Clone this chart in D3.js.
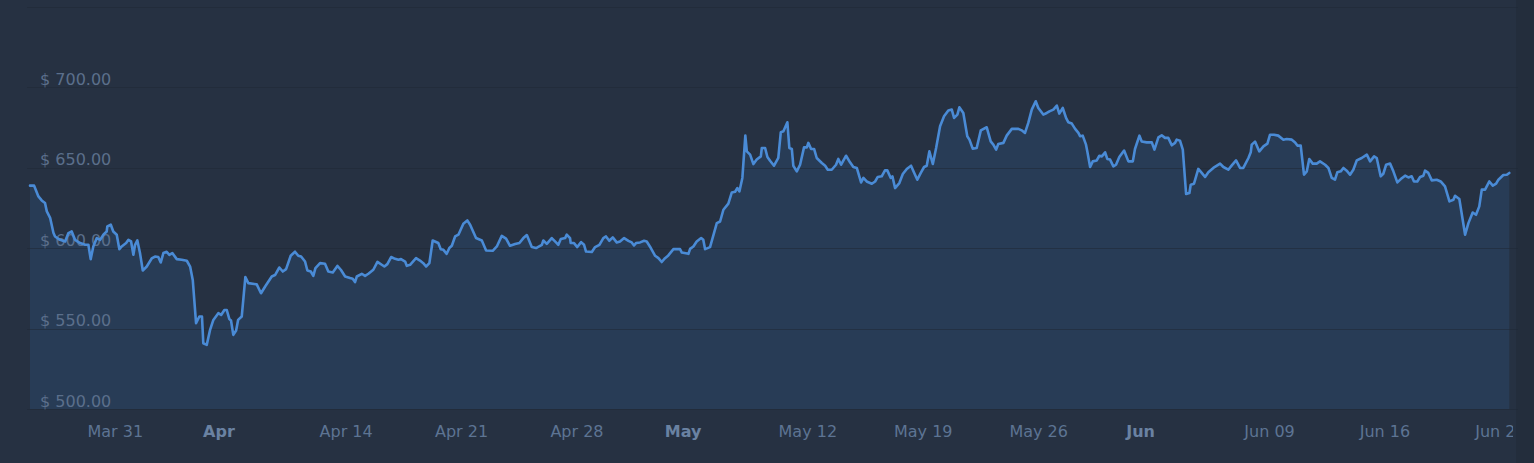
<!DOCTYPE html>
<html>
<head>
<meta charset="utf-8">
<script src="https://cdn.jsdelivr.net/npm/d3@7"></script>
<style>
  html, body { margin: 0; padding: 0; background: #263142; }
  svg { display: block; }
</style>
</head>
<body>
<svg id="chart" width="1534" height="463"></svg>
<script>
// Days relative to Mar 31 (0 = Mar 31)
const days = [-5.14,-4.89,-4.63,-4.43,-4.23,-4.12,-3.92,-3.72,-3.62,-3.32,-3.01,-2.81,-2.61,-2.41,-2.10,-1.80,-1.60,-1.46,-1.30,-1.09,-0.89,-0.69,-0.49,-0.45,-0.24,-0.09,
0.12,0.28,0.42,0.69,0.83,0.99,1.13,1.23,1.37,1.53,1.70,1.94,2.24,2.44,2.64,2.79,2.95,3.15,3.31,3.49,3.76,4.06,4.37,4.57,4.73,4.93,5.13,5.29,5.37,5.58,5.78,5.98,6.28,6.45,6.65,6.79,6.95,7.05,7.19,7.36,7.48,7.70,7.92,8.10,8.61,8.87,9.12,9.52,9.72,9.98,10.19,10.39,10.67,10.93,11.13,11.30,11.54,11.68,11.89,12.04,12.17,12.45,12.75,12.95,13.22,13.50,13.71,13.97,14.27,14.43,14.57,14.68,14.98,15.18,15.38,15.68,15.93,16.19,16.35,16.53,16.76,17.00,17.20,17.36,17.61,17.71,17.91,18.27,18.51,18.71,18.88,19.08,19.28,19.62,19.77,19.93,20.13,20.29,20.44,20.64,20.84,21.14,21.38,21.55,21.91,22.26,22.52,22.92,23.17,23.47,23.73,23.97,24.28,24.54,24.78,24.99,25.29,25.55,25.90,25.99,26.20,26.50,26.76,26.90,27.05,27.31,27.41,27.61,27.65,27.85,28.05,28.28,28.46,28.58,28.93,29.13,29.39,29.63,29.79,29.99,30.20,30.44,30.64,30.89,31.15,31.35,31.49,31.61,31.86,32.10,32.26,32.51,32.77,32.97,33.17,33.37,33.57,33.88,34.28,34.39,34.79,34.89,35.09,35.29,35.56,35.69,35.80,36.10,36.51,36.71,36.91,37.21,37.42,37.62,37.76,37.88,38.06,38.24,38.33,38.53,38.73,38.93,39.18,39.24,39.44,39.58,39.74,39.98,40.24,40.39,40.55,40.79,40.91,41.06,41.15,41.36,41.56,41.80,41.97,42.06,42.23,42.41,42.57,42.88,43.08,43.24,43.48,43.74,43.88,44.05,44.35,44.59,44.79,45.00,45.26,45.40,45.60,45.91,46.11,46.27,46.51,46.71,46.85,47.06,47.16,47.32,47.58,47.79,48.03,48.29,48.47,48.67,48.88,49.08,49.24,49.40,49.61,49.81,50.05,50.29,50.55,50.76,50.90,51.10,51.22,51.46,51.70,51.83,52.03,52.27,52.52,52.88,53.12,53.28,53.45,53.58,53.89,54.09,54.40,54.80,55.00,55.20,55.40,55.61,55.85,56.01,56.31,56.52,56.68,56.92,57.13,57.28,57.49,57.69,57.83,58.04,58.24,58.44,58.54,58.70,58.90,58.98,59.15,59.31,59.55,59.71,59.86,60.06,60.19,60.36,60.56,60.72,60.92,61.21,61.47,61.74,61.87,62.14,62.28,62.58,62.89,63.05,63.29,63.49,63.69,63.89,64.10,64.30,64.40,64.60,64.77,64.97,65.17,65.25,65.45,65.71,65.92,66.12,66.32,66.62,67.03,67.23,67.53,67.74,68.00,68.24,68.44,68.75,68.89,68.95,69.15,69.41,69.66,69.90,70.06,70.30,70.56,70.87,71.07,71.38,71.58,71.72,71.92,72.12,72.29,72.44,72.65,72.89,73.09,73.40,73.60,73.80,74.00,74.14,74.35,74.51,74.71,74.91,75.11,75.32,75.62,75.93,76.13,76.37,76.53,76.77,76.93,77.10,77.34,77.54,77.78,77.99,78.25,78.45,78.65,78.79,78.99,79.16,79.36,79.46,79.66,79.87,80.17,80.41,80.67,80.94,81.18,81.28,81.54,81.89,82.09,82.35,82.55,82.75,82.90,83.10,83.36,83.57,83.77,83.91,84.21,84.42,84.57];

const prices = [638.9,638.9,632.2,629.7,628.1,622.9,618.9,609.6,607.3,605.2,604.2,609.4,610.4,605.2,603.2,602.1,602.1,593.2,601.1,606.3,605.2,608.4,610.4,613.5,614.6,610.4,
608.4,599.4,601.1,603.2,605.2,604.2,595.9,602.1,604.8,597.0,586.1,588.6,593.6,594.8,594.5,591.1,597.0,597.8,595.9,597.0,593.2,592.8,592.2,588.6,580.3,553.4,557.5,557.5,540.9,539.9,549.2,555.4,559.6,558.5,561.6,561.6,555.9,555.0,546.1,548.8,555.4,557.5,582.0,578.3,577.5,572.0,576.2,582.4,583.3,588.0,585.5,587.0,595.3,597.8,595.3,594.8,591.7,586.1,585.5,582.8,587.6,590.7,590.3,585.5,584.9,589.0,586.6,582.4,581.4,581.0,578.9,582.4,584.1,582.8,584.1,586.6,591.5,589.7,588.6,590.1,594.5,593.4,592.8,593.2,591.7,589.0,589.7,593.8,592.3,590.7,588.6,590.7,604.8,603.2,599.4,599.0,596.5,600.1,601.5,607.3,608.4,615.2,617.3,614.6,606.3,604.8,598.6,598.4,601.1,607.7,606.0,601.5,602.6,603.2,606.3,608.2,600.7,600.1,602.1,604.8,602.7,606.3,603.6,602.1,605.7,606.3,608.4,606.3,603.2,603.2,600.7,603.8,602.1,597.9,597.6,600.7,602.1,606.3,607.3,604.6,606.7,603.6,604.2,606.3,604.6,603.6,601.7,603.2,603.6,604.6,604.2,600.1,595.3,593.8,591.4,593.8,595.5,599.4,599.4,597.3,596.5,599.6,601.1,604.2,606.3,605.2,599.4,600.7,615.6,616.6,623.9,627.7,634.7,635.1,637.4,635.3,643.7,670.0,660.2,658.2,652.3,655.1,657.1,662.3,662.3,656.7,654.4,651.3,656.1,672.1,672.7,678.3,662.3,661.7,651.3,647.8,651.9,662.7,662.7,665.5,661.7,661.7,656.1,653.0,651.3,648.8,648.8,651.9,655.5,651.9,657.5,653.4,650.5,649.9,640.9,643.7,641.5,640.1,641.5,644.3,644.7,648.4,648.4,643.7,644.7,637.4,640.5,646.1,649.3,651.3,647.1,642.6,646.8,650.5,651.3,660.2,652.4,662.3,675.8,682.0,685.7,686.2,681.0,683.1,687.6,684.1,669.6,667.5,661.9,662.3,673.3,675.2,666.4,664.4,661.3,664.8,665.5,670.0,674.2,674.2,673.3,671.7,677.9,686.2,691.4,687.2,683.1,684.1,685.1,686.2,688.7,683.7,687.2,681.0,678.3,677.5,674.2,671.7,669.6,670.0,664.4,660.2,650.5,654.0,654.6,657.5,657.1,659.6,655.5,655.1,650.9,651.9,656.7,660.7,654.0,654.0,661.7,670.0,666.4,665.8,665.8,661.3,668.9,670.2,668.6,668.6,664.0,665.5,667.5,666.9,661.3,633.7,634.3,639.5,640.1,649.3,646.8,644.3,647.2,649.9,652.6,650.5,648.8,651.5,654.6,649.9,649.9,656.1,659.6,664.4,666.3,660.2,663.3,665.0,670.6,670.6,670.0,667.5,667.9,667.5,665.8,663.8,663.8,645.7,647.8,655.5,652.6,652.6,654.0,651.9,649.9,643.7,642.6,647.2,647.8,649.9,648.2,645.7,648.8,654.6,656.1,658.2,654.0,657.1,656.1,644.7,646.3,651.9,652.6,647.8,640.9,643.0,645.1,644.0,644.7,641.5,641.5,644.3,645.1,648.2,646.8,642.2,642.6,641.5,638.4,629.1,630.1,632.6,630.6,608.4,615.6,622.2,620.8,626.0,636.4,636.4,641.5,638.9,640.1,642.6,645.5,645.7,646.8];

const yTicks = [500, 550, 600, 650, 700];
const yGrid = [500, 550, 600, 650, 700, 750];
const xTickDays = [0, 6.29, 14, 21, 28, 34.44, 42, 49, 56, 62.18, 70, 77, 84];
const xTickLabels = ["Mar 31", "Apr", "Apr 14", "Apr 21", "Apr 28", "May", "May 12", "May 19", "May 26", "Jun", "Jun 09", "Jun 16", "Jun 23"];
const xTickBold = [false, true, false, false, false, true, false, false, false, true, false, false, false];

const data = days.map((d, i) => ({ d, v: prices[i] }));

const svg = d3.select("#chart");
const W = 1534, H = 463;
const frame = { left: 27, right: 1518, top: 7, bottom: 409 };
const dataLeft = 30, dataRight = 1509.3;

svg.append("rect").attr("width", W).attr("height", H).attr("fill", "#263142");
svg.append("rect").attr("x", frame.right - 2).attr("y", 0).attr("width", W - frame.right + 2).attr("height", H).attr("fill", "#232d3c");

const x = d3.scaleLinear().domain(d3.extent(days)).range([dataLeft, dataRight]);
const y = d3.scaleLinear().domain([500, 750]).range([frame.bottom, frame.top]);

// area
const area = d3.area().x(p => x(p.d)).y0(y(500)).y1(p => y(p.v)).curve(d3.curveLinear);
svg.append("path").datum(data).attr("d", area).attr("fill", "#283c56");

// gridlines
svg.append("g").selectAll("line").data(yGrid).join("line")
  .attr("x1", frame.left).attr("x2", frame.right)
  .attr("y1", v => Math.round(y(v)) + 0.5).attr("y2", v => Math.round(y(v)) + 0.5)
  .attr("stroke", "#1f2836").attr("stroke-opacity", 0.55).attr("stroke-width", 1);

// y labels
svg.append("g").selectAll("text").data(yTicks).join("text")
  .attr("x", 40).attr("y", v => y(v) - 2.5)
  .attr("font-family", "DejaVu Sans, sans-serif").attr("font-size", 16)
  .attr("fill", "#5b6f8b")
  .text(v => "$ " + d3.format(".2f")(v));

// line
const line = d3.line().x(p => x(p.d)).y(p => y(p.v));
svg.append("path").datum(data).attr("d", line)
  .attr("fill", "none").attr("stroke", "#4a8bd6").attr("stroke-width", 2.6)
  .attr("stroke-linejoin", "round").attr("stroke-linecap", "round");

// x axis labels (through a d3 axis, styled)
svg.append("defs").append("clipPath").attr("id", "xclip")
  .append("rect").attr("x", 0).attr("y", 410).attr("width", 1513).attr("height", 53);
const xTickScale = d3.scaleLinear().domain(x.domain()).range(x.range());
const xAxis = d3.axisBottom(xTickScale).tickValues(xTickDays)
  .tickFormat((d, i) => xTickLabels[i]).tickSize(0).tickPadding(0);
const gx = svg.append("g").attr("clip-path", "url(#xclip)")
  .append("g").attr("transform", "translate(0,423)").call(xAxis);
gx.select(".domain").remove();
gx.selectAll("text")
  .attr("font-family", "DejaVu Sans, sans-serif").attr("font-size", 16)
  .attr("fill", "#5d7493")
  .attr("dy", "0.9em")
  .attr("font-weight", (d, i) => xTickBold[i] ? "bold" : "normal")
  .attr("fill", (d, i) => xTickBold[i] ? "#6a82a2" : "#5d7493");
</script>
</body>
</html>
